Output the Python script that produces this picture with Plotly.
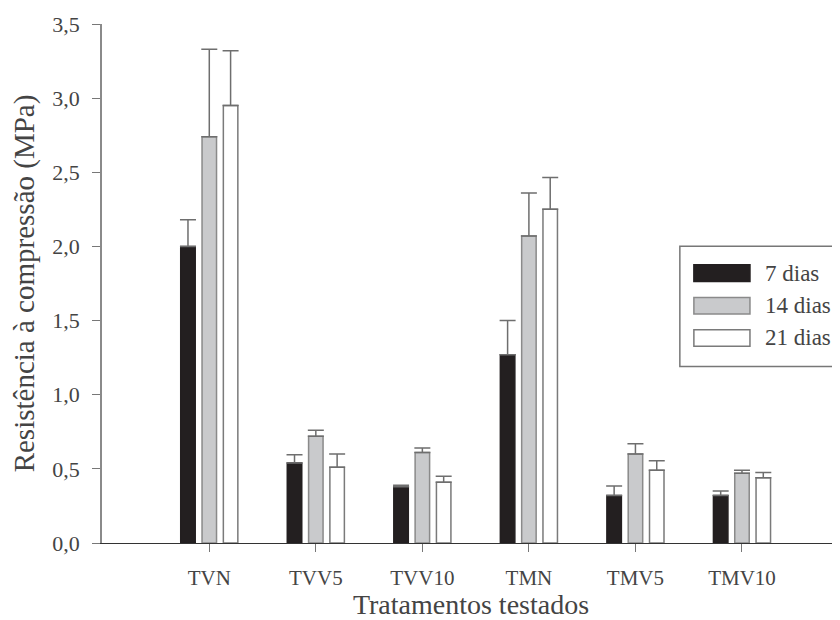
import plotly.graph_objects as go

categories = ["TVN", "TVV5", "TVV10", "TMN", "TMV5", "TMV10"]
series_names = ["7 dias", "14 dias", "21 dias"]

vals_7 = [2.00, 0.54, 0.38, 1.27, 0.32, 0.32]
vals_14 = [2.74, 0.72, 0.61, 2.07, 0.60, 0.47]
vals_21 = [2.95, 0.51, 0.41, 2.25, 0.49, 0.44]

err_7 = [0.18, 0.055, 0.01, 0.23, 0.065, 0.03]
err_14 = [0.59, 0.04, 0.03, 0.29, 0.07, 0.02]
err_21 = [0.37, 0.09, 0.04, 0.215, 0.065, 0.035]

y_ticks = [0.0, 0.5, 1.0, 1.5, 2.0, 2.5, 3.0, 3.5]

fills = ["#231f20", "#c9cacc", "#ffffff"]
edges = ["#231f20", "#8a8a8a", "#7a7a7a"]

fig = go.Figure()
for name, vals, errs, fc, ec in zip(series_names, [vals_7, vals_14, vals_21],
                                    [err_7, err_14, err_21], fills, edges):
    fig.add_trace(go.Bar(
        x=categories, y=vals, name=name,
        marker=dict(color=fc, line=dict(color=ec, width=1.5)),
        error_y=dict(type="data", symmetric=False, array=errs,
                     arrayminus=[0] * len(errs), color="#6e6e6e",
                     thickness=1.5, width=8),
        showlegend=False,
    ))

font_family = "Liberation Serif"

# page body has an 8px margin: figure is shifted by 8px, so compensate
fig.update_layout(
    width=832, height=612,
    margin=dict(l=94, r=0, t=16, b=77),
    paper_bgcolor="white", plot_bgcolor="white",
    barmode="group", bargap=0.4, bargroupgap=0.32,
    separators=",.",
    font=dict(family=font_family, color="#444444", size=22),
    xaxis=dict(
        range=[-1.007, 5.92], showline=True, linecolor="#333333", linewidth=1.2,
        ticks="outside", ticklen=8, tickcolor="#777777", tickwidth=1.2,
        tickfont=dict(size=21, color="#444444", family=font_family), ticklabelstandoff=8,
        title=dict(text="Tratamentos testados", font=dict(size=28, color="#444444", family=font_family), standoff=6),
        showgrid=False, zeroline=False,
    ),
    yaxis=dict(
        range=[0, 3.5], tickvals=y_ticks, tickformat=".1f",
        showline=True, linecolor="#8a8a8a", linewidth=1.5,
        ticks="outside", ticklen=8, tickcolor="#777777", tickwidth=1.2,
        tickfont=dict(size=22, color="#444444", family=font_family), ticklabelstandoff=8,
        title=dict(text="Resistência à compressão (MPa)", font=dict(size=29, color="#444444", family=font_family), standoff=10),
        showgrid=False, zeroline=False,
    ),
)

# custom legend (long rectangular swatches, as in the reference)
lx0, lx1 = 0.783, 1.05
ly_top, ly_bot = 0.572, 0.34
fig.add_shape(type="rect", xref="paper", yref="paper", x0=lx0, x1=lx1, y0=ly_bot, y1=ly_top,
              line=dict(color="#777777", width=1.5), fillcolor="white", layer="above")
row_y = [0.520, 0.457, 0.395]
for name, fc, ec, yy in zip(series_names, fills, edges, row_y):
    fig.add_shape(type="rect", xref="paper", yref="paper",
                  x0=0.802, x1=0.878, y0=yy - 0.016, y1=yy + 0.016,
                  line=dict(color=ec, width=1.5), fillcolor=fc, layer="above")
    fig.add_annotation(xref="paper", yref="paper", x=0.895, y=yy, text=name,
                       showarrow=False, xanchor="left", yanchor="middle",
                       font=dict(size=23, color="#444444", family=font_family))

fig.write_html("out.html")
